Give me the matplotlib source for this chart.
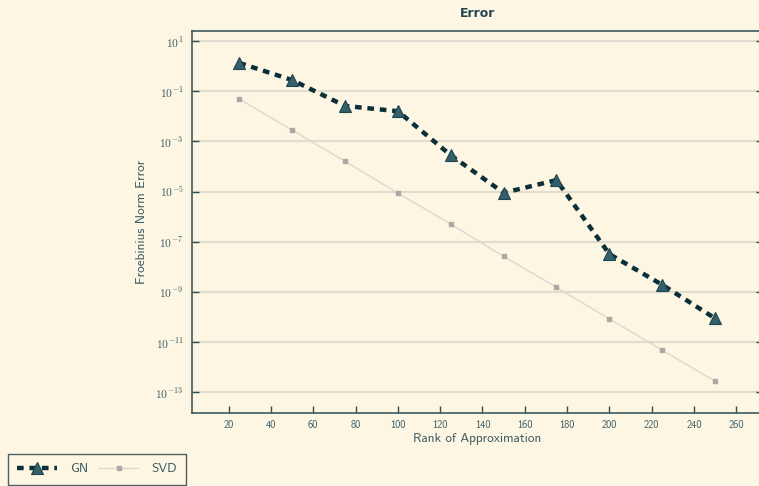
import numpy as np
import matplotlib
matplotlib.use("Agg")
import matplotlib.pyplot as plt
from matplotlib.ticker import FixedLocator, FuncFormatter

# rank of the approximation and the resulting Frobenius norm error
rank = [25, 50, 75, 100, 125, 150, 175, 200, 225, 250]
err_gn = [1.35, 0.28, 0.026, 0.016, 2.8e-4, 8.9e-6, 2.85e-5, 3.2e-8, 1.9e-9, 8.7e-11]
err_svd = [0.049, 2.8e-3, 1.6e-4, 8.7e-6, 5.0e-7, 2.6e-8, 1.5e-9, 8.3e-11, 4.7e-12, 2.7e-13]
xticks = [20, 40, 60, 80, 100, 120, 140, 160, 180, 200, 220, 240, 260]
yexp = [1, -1, -3, -5, -7, -9, -11, -13]

bg = "#fdf6e3"
txt = "#3a5a62"
dark = "#0b2f38"

plt.rcParams['font.family'] = ['cmss10', 'DejaVu Sans']
plt.rcParams['mathtext.fontset'] = 'cm'
plt.rcParams['axes.unicode_minus'] = False

fig = plt.figure(figsize=(7.59, 4.86), dpi=100, facecolor=bg)
ax = fig.add_axes([0.2526, 0.150, 0.7522, 0.786])
ax.set_facecolor(bg)

ax.plot(rank, err_gn, color=dark, lw=3.2, linestyle=(0, (1.5, 1.3)),
        marker='^', markersize=9, markerfacecolor="#35606b",
        markeredgecolor="#1d4650", markeredgewidth=0.8, label="GN", zorder=3)
ax.plot(rank, err_svd, color="#ddd8cb", lw=1.0, marker='s', markersize=2.5,
        markerfacecolor="#a9aaa3", markeredgecolor="#a9aaa3", label="SVD", zorder=2)

ax.set_yscale('log')
ax.set_xlim(2.5, 272.5)
ax.set_ylim(10**-13.84, 10**1.4)
ax.xaxis.set_major_locator(FixedLocator(xticks))
ax.yaxis.set_major_locator(FixedLocator([10.0**e for e in yexp]))
ax.yaxis.set_minor_locator(FixedLocator([]))
ax.yaxis.set_major_formatter(FuncFormatter(
    lambda v, p: r"$\mathsf{10}^{%d}$" % int(round(np.log10(v)))))

ax.grid(axis='y', color="#e0dccf", lw=1.6)
ax.set_axisbelow(True)
for s in ax.spines.values():
    s.set_color("#3d5a61")
    s.set_linewidth(1.2)

ax.tick_params(axis='x', direction='in', length=5, width=1, color="#2d4c54",
               labelsize=7.5, labelcolor=txt, pad=5)
ax.tick_params(axis='y', direction='in', length=5, width=1, color="#2d4c54",
               labelsize=8.3, labelcolor=txt, right=True, pad=6)

ax.set_title("Error", fontsize=9, fontweight='bold', color="#23454e",
             family=['DejaVu Sans'], pad=10)
ax.set_xlabel("Rank of Approximation", fontsize=9.5, color=txt, labelpad=2)
ax.set_ylabel("Froebinius Norm Error", fontsize=9.5, color=txt, labelpad=5)

leg = fig.legend(loc='upper left', bbox_to_anchor=(0.0105, 0.066), ncol=2,
                 fontsize=9.5, frameon=True, fancybox=False, handlelength=3.0,
                 handletextpad=1.0, columnspacing=0.8, borderpad=0.7,
                 borderaxespad=0)
leg.get_frame().set_facecolor(bg)
leg.get_frame().set_edgecolor("#1d3a42")
leg.get_frame().set_linewidth(1.0)
for t in leg.get_texts():
    t.set_color(txt)

fig.savefig("out.png", dpi=100, facecolor=bg)
